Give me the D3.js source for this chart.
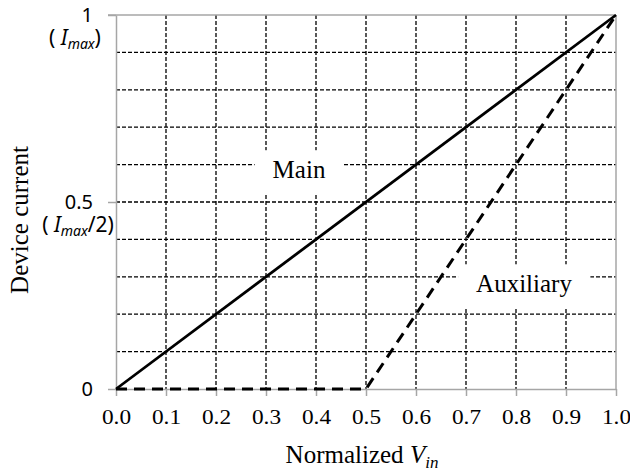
<!DOCTYPE html>
<html>
<head>
<meta charset="utf-8">
<script src="https://cdn.jsdelivr.net/npm/d3@7"></script>
<style>
  body { margin: 0; background: #fff; }
  svg { display: block; }
</style>
</head>
<body>
<div id="chart"></div>
<script>
// data
var xTicks = [0, 0.1, 0.2, 0.3, 0.4, 0.5, 0.6, 0.7, 0.8, 0.9, 1.0];
var yGrid = [0.1, 0.2, 0.3, 0.4, 0.5, 0.6, 0.7, 0.8, 0.9];
var yTicks = [0, 0.5, 1];
var yTickSub = {"0": null, "0.5": "/2)", "1": ")"};
var mainX = [0, 1];
var mainY = [0, 1];
var auxX = [0, 0.5, 1];
var auxY = [0, 0, 1];
var labels = [
  {text: "Main", x: 0.366, y: 0.585},
  {text: "Auxiliary", x: 0.816, y: 0.28}
];

var width = 630, height = 476;
var mLeft = 116, mRight = 616, mTop = 15, mBottom = 389;

var svg = d3.select("#chart").append("svg")
    .attr("width", width)
    .attr("height", height);

var xscale = d3.scaleLinear().domain([0, 1]).range([mLeft, mRight]);
var yscale = d3.scaleLinear().domain([0, 1]).range([mBottom, mTop]);

// dashed grid
svg.append("g").selectAll("line")
    .data(xTicks.slice(1, -1))
    .enter().append("line")
    .attr("x1", function(d){ return xscale(d); })
    .attr("x2", function(d){ return xscale(d); })
    .attr("y1", mTop).attr("y2", mBottom)
    .style("stroke", "#000").style("stroke-width", 1.3)
    .style("stroke-dasharray", "4,2");

svg.append("g").selectAll("line")
    .data(yGrid)
    .enter().append("line")
    .attr("y1", function(d){ return yscale(d); })
    .attr("y2", function(d){ return yscale(d); })
    .attr("x1", mLeft).attr("x2", mRight)
    .style("stroke", "#000").style("stroke-width", 1.3)
    .style("stroke-dasharray", "4,2");

// frame and axes
var gray = "#a6a6a6";
svg.append("line").attr("x1", mLeft - 8).attr("x2", mRight)
    .attr("y1", yscale(1)).attr("y2", yscale(1))
    .style("stroke", gray).style("stroke-width", 1.5);
svg.append("line").attr("x1", mRight).attr("x2", mRight)
    .attr("y1", mTop).attr("y2", mBottom)
    .style("stroke", gray).style("stroke-width", 1.5);

var xAxis = d3.axisBottom(xscale).tickValues(xTicks)
    .tickSize(7).tickSizeOuter(0).tickFormat(d3.format(".1f"));
var gx = svg.append("g")
    .attr("transform", "translate(0," + mBottom + ")")
    .call(xAxis);
gx.select(".domain").style("stroke", gray).style("stroke-width", 1.5);
gx.selectAll(".tick line").style("stroke", gray).style("stroke-width", 1.5);
gx.selectAll(".tick text")
    .attr("y", 19).attr("dy", "0.71em")
    .attr("transform", "scale(1.06,1)")
    .style("font-family", "'Liberation Serif', 'Times New Roman', serif")
    .style("font-size", "22px")
    .style("fill", "#000");

var yAxis = d3.axisLeft(yscale).tickValues(yTicks).tickSize(8).tickSizeOuter(0).tickFormat("");
var gy = svg.append("g")
    .attr("transform", "translate(" + mLeft + ",0)")
    .call(yAxis);
gy.select(".domain").style("stroke", gray).style("stroke-width", 1.5);
gy.selectAll(".tick line").style("stroke", gray).style("stroke-width", 1.5);

// y tick labels (number plus I_max note)
var sans = "'Noto Sans', 'Open Sans', sans-serif";
yTicks.forEach(function(v){
  var y0 = yscale(v);
  svg.append("text")
      .attr("x", 93).attr("y", y0 + 7)
      .attr("text-anchor", "end")
      .style("font-family", sans).style("font-size", "20px")
      .text(v === 0.5 ? "0.5" : String(v));
  var sub = yTickSub[String(v)];
  if (sub) {
    var t = svg.append("text")
        .attr("x", v === 1 ? 75 : 78).attr("y", y0 + 30)
        .attr("text-anchor", "middle")
        .style("font-family", sans).style("font-size", "21px");
    t.append("tspan").text("( ");
    t.append("tspan").style("font-style", "italic").text("I");
    t.append("tspan").style("font-style", "italic").style("font-size", "14px")
        .attr("dy", 4).text("max");
    t.append("tspan").attr("dy", -4).text(sub);
  }
});

// label boxes
var serif = "'Liberation Serif', 'Times New Roman', serif";
labels.forEach(function(l){
  var g = svg.append("g");
  var tx = g.append("text")
      .attr("x", xscale(l.x)).attr("y", yscale(l.y) + 8)
      .attr("text-anchor", "middle")
      .style("font-family", serif).style("font-size", "25px")
      .text(l.text);
  var bb = tx.node().getBBox();
  g.insert("rect", "text")
      .attr("x", bb.x - 18).attr("y", bb.y - 6)
      .attr("width", bb.width + 36).attr("height", bb.height + 16)
      .style("fill", "#fff");
});

// lines
var line = d3.line()
    .x(function(d){ return xscale(d[0]); })
    .y(function(d){ return yscale(d[1]); });

svg.append("path")
    .datum(d3.zip(auxX, auxY))
    .attr("d", line)
    .style("fill", "none").style("stroke", "#000")
    .style("stroke-width", 3).style("stroke-dasharray", "11,7");

svg.append("path")
    .datum(d3.zip(mainX, mainY))
    .attr("d", line)
    .style("fill", "none").style("stroke", "#000")
    .style("stroke-width", 2.8);

// axis titles
var xt = svg.append("text")
    .attr("x", 362).attr("y", 463)
    .attr("text-anchor", "middle")
    .style("font-family", serif).style("font-size", "25px");
xt.append("tspan").text("Normalized ");
xt.append("tspan").style("font-style", "italic").text("V");
xt.append("tspan").style("font-style", "italic").style("font-size", "17px")
    .attr("dy", 5).text("in");

svg.append("text")
    .attr("transform", "translate(28,220) rotate(-90)")
    .attr("text-anchor", "middle")
    .style("font-family", serif).style("font-size", "25px")
    .text("Device current");
</script>
</body>
</html>
